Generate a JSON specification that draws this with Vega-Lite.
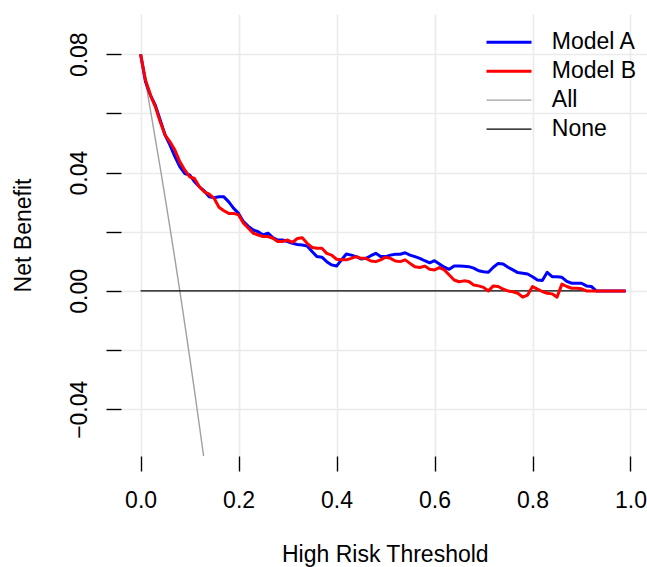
{
"$schema": "https://vega.github.io/schema/vega-lite/v6.json",
"width": 526,
"height": 442,
"autosize": {"type": "none"},
"padding": {"left": 121, "top": 14, "right": 0, "bottom": 111},
"config": {"font": "Liberation Sans", "view": {"stroke": null}},
"data": {"values": [
{"series":"All","t":0,"nb":0.08},{"series":"All","t":0.01,"nb":0.0707},{"series":"All","t":0.02,"nb":0.0612},{"series":"All","t":0.03,"nb":0.0515},{"series":"All","t":0.04,"nb":0.0417},{"series":"All","t":0.05,"nb":0.0316},{"series":"All","t":0.06,"nb":0.0213},{"series":"All","t":0.07,"nb":0.0108},{"series":"All","t":0.08,"nb":0},{"series":"All","t":0.09,"nb":-0.011},{"series":"All","t":0.1,"nb":-0.0222},{"series":"All","t":0.11,"nb":-0.0337},{"series":"All","t":0.12,"nb":-0.0455},{"series":"All","t":0.13,"nb":-0.0575},{"series":"All","t":0.14,"nb":-0.0698},
{"series":"None","t":0,"nb":0},{"series":"None","t":0.99,"nb":0},
{"series":"Model A","t":0,"nb":0.08},{"series":"Model A","t":0.01,"nb":0.0707},{"series":"Model A","t":0.02,"nb":0.0662},{"series":"Model A","t":0.03,"nb":0.0628},{"series":"Model A","t":0.04,"nb":0.0578},{"series":"Model A","t":0.05,"nb":0.0527},{"series":"Model A","t":0.06,"nb":0.0493},{"series":"Model A","t":0.07,"nb":0.0454},{"series":"Model A","t":0.08,"nb":0.042},{"series":"Model A","t":0.09,"nb":0.0397},
{"series":"Model A","t":0.1,"nb":0.0392},{"series":"Model A","t":0.11,"nb":0.0369},{"series":"Model A","t":0.12,"nb":0.0352},{"series":"Model A","t":0.13,"nb":0.0338},{"series":"Model A","t":0.14,"nb":0.0318},{"series":"Model A","t":0.15,"nb":0.0315},{"series":"Model A","t":0.16,"nb":0.0318},{"series":"Model A","t":0.17,"nb":0.0318},{"series":"Model A","t":0.18,"nb":0.0301},{"series":"Model A","t":0.19,"nb":0.0279},
{"series":"Model A","t":0.2,"nb":0.0262},{"series":"Model A","t":0.21,"nb":0.0234},{"series":"Model A","t":0.22,"nb":0.0218},{"series":"Model A","t":0.23,"nb":0.0206},{"series":"Model A","t":0.24,"nb":0.02},{"series":"Model A","t":0.25,"nb":0.0189},{"series":"Model A","t":0.26,"nb":0.0195},{"series":"Model A","t":0.27,"nb":0.018},{"series":"Model A","t":0.28,"nb":0.0172},{"series":"Model A","t":0.29,"nb":0.0172},
{"series":"Model A","t":0.3,"nb":0.0167},{"series":"Model A","t":0.31,"nb":0.0161},{"series":"Model A","t":0.32,"nb":0.0157},{"series":"Model A","t":0.33,"nb":0.0155},{"series":"Model A","t":0.34,"nb":0.0152},{"series":"Model A","t":0.35,"nb":0.0133},{"series":"Model A","t":0.36,"nb":0.0116},{"series":"Model A","t":0.37,"nb":0.0114},{"series":"Model A","t":0.38,"nb":0.0099},{"series":"Model A","t":0.39,"nb":0.0088},
{"series":"Model A","t":0.4,"nb":0.0084},{"series":"Model A","t":0.41,"nb":0.0105},{"series":"Model A","t":0.42,"nb":0.0125},{"series":"Model A","t":0.43,"nb":0.0121},{"series":"Model A","t":0.44,"nb":0.0116},{"series":"Model A","t":0.45,"nb":0.0108},{"series":"Model A","t":0.46,"nb":0.011},{"series":"Model A","t":0.47,"nb":0.0119},{"series":"Model A","t":0.48,"nb":0.0127},{"series":"Model A","t":0.49,"nb":0.0116},
{"series":"Model A","t":0.5,"nb":0.0116},{"series":"Model A","t":0.51,"nb":0.0121},{"series":"Model A","t":0.52,"nb":0.0124},{"series":"Model A","t":0.53,"nb":0.0124},{"series":"Model A","t":0.54,"nb":0.0129},{"series":"Model A","t":0.55,"nb":0.0121},{"series":"Model A","t":0.56,"nb":0.0116},{"series":"Model A","t":0.57,"nb":0.011},{"series":"Model A","t":0.58,"nb":0.0102},{"series":"Model A","t":0.59,"nb":0.0095},
{"series":"Model A","t":0.6,"nb":0.0102},{"series":"Model A","t":0.61,"nb":0.0091},{"series":"Model A","t":0.62,"nb":0.008},{"series":"Model A","t":0.63,"nb":0.0073},{"series":"Model A","t":0.64,"nb":0.0084},{"series":"Model A","t":0.65,"nb":0.0084},{"series":"Model A","t":0.66,"nb":0.0083},{"series":"Model A","t":0.67,"nb":0.0082},{"series":"Model A","t":0.68,"nb":0.0077},{"series":"Model A","t":0.69,"nb":0.0068},
{"series":"Model A","t":0.7,"nb":0.0065},{"series":"Model A","t":0.71,"nb":0.0063},{"series":"Model A","t":0.72,"nb":0.008},{"series":"Model A","t":0.73,"nb":0.0093},{"series":"Model A","t":0.74,"nb":0.0091},{"series":"Model A","t":0.75,"nb":0.008},{"series":"Model A","t":0.76,"nb":0.0071},{"series":"Model A","t":0.77,"nb":0.0062},{"series":"Model A","t":0.78,"nb":0.006},{"series":"Model A","t":0.79,"nb":0.0057},
{"series":"Model A","t":0.8,"nb":0.0048},{"series":"Model A","t":0.81,"nb":0.0037},{"series":"Model A","t":0.82,"nb":0.0035},{"series":"Model A","t":0.83,"nb":0.0063},{"series":"Model A","t":0.84,"nb":0.0048},{"series":"Model A","t":0.85,"nb":0.0048},{"series":"Model A","t":0.86,"nb":0.0046},{"series":"Model A","t":0.87,"nb":0.0032},{"series":"Model A","t":0.88,"nb":0.0026},{"series":"Model A","t":0.89,"nb":0.0026},
{"series":"Model A","t":0.9,"nb":0.0026},{"series":"Model A","t":0.91,"nb":0.0017},{"series":"Model A","t":0.92,"nb":0.0015},{"series":"Model A","t":0.93,"nb":0},{"series":"Model A","t":0.94,"nb":0},{"series":"Model A","t":0.95,"nb":0},{"series":"Model A","t":0.96,"nb":0},{"series":"Model A","t":0.97,"nb":0},{"series":"Model A","t":0.98,"nb":0},{"series":"Model A","t":0.99,"nb":0},
{"series":"Model B","t":0,"nb":0.08},{"series":"Model B","t":0.01,"nb":0.0713},{"series":"Model B","t":0.02,"nb":0.0662},{"series":"Model B","t":0.03,"nb":0.0623},{"series":"Model B","t":0.04,"nb":0.0572},{"series":"Model B","t":0.05,"nb":0.0527},{"series":"Model B","t":0.06,"nb":0.0504},{"series":"Model B","t":0.07,"nb":0.0476},{"series":"Model B","t":0.08,"nb":0.0437},{"series":"Model B","t":0.09,"nb":0.0409},
{"series":"Model B","t":0.1,"nb":0.0386},{"series":"Model B","t":0.11,"nb":0.038},{"series":"Model B","t":0.12,"nb":0.0352},{"series":"Model B","t":0.13,"nb":0.0335},{"series":"Model B","t":0.14,"nb":0.0327},{"series":"Model B","t":0.15,"nb":0.0313},{"series":"Model B","t":0.16,"nb":0.0283},{"series":"Model B","t":0.17,"nb":0.0271},{"series":"Model B","t":0.18,"nb":0.0262},{"series":"Model B","t":0.19,"nb":0.0262},
{"series":"Model B","t":0.2,"nb":0.0257},{"series":"Model B","t":0.21,"nb":0.0229},{"series":"Model B","t":0.22,"nb":0.0212},{"series":"Model B","t":0.23,"nb":0.0195},{"series":"Model B","t":0.24,"nb":0.0189},{"series":"Model B","t":0.25,"nb":0.0184},{"series":"Model B","t":0.26,"nb":0.0184},{"series":"Model B","t":0.27,"nb":0.0178},{"series":"Model B","t":0.28,"nb":0.0167},{"series":"Model B","t":0.29,"nb":0.0167},
{"series":"Model B","t":0.3,"nb":0.0172},{"series":"Model B","t":0.31,"nb":0.0164},{"series":"Model B","t":0.32,"nb":0.0177},{"series":"Model B","t":0.33,"nb":0.018},{"series":"Model B","t":0.34,"nb":0.0161},{"series":"Model B","t":0.35,"nb":0.0147},{"series":"Model B","t":0.36,"nb":0.0144},{"series":"Model B","t":0.37,"nb":0.0144},{"series":"Model B","t":0.38,"nb":0.0127},{"series":"Model B","t":0.39,"nb":0.0121},
{"series":"Model B","t":0.4,"nb":0.0107},{"series":"Model B","t":0.41,"nb":0.0105},{"series":"Model B","t":0.42,"nb":0.0105},{"series":"Model B","t":0.43,"nb":0.011},{"series":"Model B","t":0.44,"nb":0.0116},{"series":"Model B","t":0.45,"nb":0.011},{"series":"Model B","t":0.46,"nb":0.011},{"series":"Model B","t":0.47,"nb":0.0101},{"series":"Model B","t":0.48,"nb":0.0099},{"series":"Model B","t":0.49,"nb":0.0105},
{"series":"Model B","t":0.5,"nb":0.0114},{"series":"Model B","t":0.51,"nb":0.011},{"series":"Model B","t":0.52,"nb":0.0101},{"series":"Model B","t":0.53,"nb":0.0099},{"series":"Model B","t":0.54,"nb":0.0105},{"series":"Model B","t":0.55,"nb":0.0093},{"series":"Model B","t":0.56,"nb":0.0082},{"series":"Model B","t":0.57,"nb":0.0079},{"series":"Model B","t":0.58,"nb":0.0084},{"series":"Model B","t":0.59,"nb":0.0073},
{"series":"Model B","t":0.6,"nb":0.0071},{"series":"Model B","t":0.61,"nb":0.0079},{"series":"Model B","t":0.62,"nb":0.0071},{"series":"Model B","t":0.63,"nb":0.0054},{"series":"Model B","t":0.64,"nb":0.0037},{"series":"Model B","t":0.65,"nb":0.0031},{"series":"Model B","t":0.66,"nb":0.0034},{"series":"Model B","t":0.67,"nb":0.0032},{"series":"Model B","t":0.68,"nb":0.002},{"series":"Model B","t":0.69,"nb":0.0017},
{"series":"Model B","t":0.7,"nb":0.0012},{"series":"Model B","t":0.71,"nb":0},{"series":"Model B","t":0.72,"nb":0.0017},{"series":"Model B","t":0.73,"nb":0.0015},{"series":"Model B","t":0.74,"nb":0.0006},{"series":"Model B","t":0.75,"nb":0},{"series":"Model B","t":0.76,"nb":-0.0003},{"series":"Model B","t":0.77,"nb":-0.0008},{"series":"Model B","t":0.78,"nb":-0.0021},{"series":"Model B","t":0.79,"nb":-0.0014},
{"series":"Model B","t":0.8,"nb":0.0015},{"series":"Model B","t":0.81,"nb":0.0006},{"series":"Model B","t":0.82,"nb":-0.0002},{"series":"Model B","t":0.83,"nb":-0.0008},{"series":"Model B","t":0.84,"nb":-0.001},{"series":"Model B","t":0.85,"nb":-0.0021},{"series":"Model B","t":0.86,"nb":0.0023},{"series":"Model B","t":0.87,"nb":0.0015},{"series":"Model B","t":0.88,"nb":0.0009},{"series":"Model B","t":0.89,"nb":0.0009},
{"series":"Model B","t":0.9,"nb":0.0007},{"series":"Model B","t":0.91,"nb":0},{"series":"Model B","t":0.92,"nb":0},{"series":"Model B","t":0.93,"nb":0},{"series":"Model B","t":0.94,"nb":0},{"series":"Model B","t":0.95,"nb":0},{"series":"Model B","t":0.96,"nb":0},{"series":"Model B","t":0.97,"nb":0},{"series":"Model B","t":0.98,"nb":0},{"series":"Model B","t":0.99,"nb":0}
]},
"encoding": {
  "x": {"field": "t", "type": "quantitative",
    "scale": {"domain": [-0.04, 1.0337], "nice": false, "zero": false},
    "axis": {"values": [0, 0.2, 0.4, 0.6, 0.8, 1], "format": ".1f", "grid": true, "gridColor": "#EBEBEB", "gridWidth": 1.7,
      "domain": false, "tickSize": 15, "tickColor": "black", "tickWidth": 1.4,
      "labelFontSize": 23, "labelColor": "black", "labelPadding": 18, "labelBaseline": "top", "labelFlush": false, "labelOverlap": false,
      "title": "High Risk Threshold", "titleFontSize": 23, "titleFontWeight": "normal", "titleColor": "black",
      "titleX": 263.8, "titleY": 105.8, "titleBaseline": "alphabetic", "titleAlign": "center"}},
  "y": {"field": "nb", "type": "quantitative",
    "scale": {"domain": [-0.0558, 0.0936], "nice": false, "zero": false},
    "axis": {"values": [-0.04, -0.02, 0, 0.02, 0.04, 0.06, 0.08],
      "labelExpr": "abs(round(datum.value*100)) % 4 == 0 ? format(datum.value, '.2f') : ''",
      "grid": true, "gridColor": "#EBEBEB", "gridWidth": 1.7,
      "domain": false, "tickSize": 15, "tickColor": "black", "tickWidth": 1.4,
      "labelFontSize": 23, "labelColor": "black", "labelAngle": 270, "labelAlign": "center", "labelBaseline": "alphabetic", "labelPadding": 19.3, "labelFlush": false, "labelOverlap": false,
      "title": "Net Benefit", "titleFontSize": 23, "titleFontWeight": "normal", "titleColor": "black", "titleAngle": 270,
      "titleX": -90.3, "titleY": 221, "titleBaseline": "alphabetic", "titleAlign": "center"}},
  "color": {"field": "series", "type": "nominal",
    "scale": {"domain": ["Model A", "Model B", "All", "None"], "range": ["#0000FF", "#FF0000", "#A0A0A0", "#000000"]},
    "legend": {"title": null, "orient": "none", "legendX": 346, "legendY": 0, "symbolType": "stroke", "symbolSize": 2025,
      "labelFontSize": 23, "labelColor": "black", "labelOffset": 19.3, "symbolOffset": 4.5, "padding": 14, "rowPadding": 0, "clipHeight": 28.3,
      "strokeColor": null, "fillColor": null, "labelLimit": 0,
      "encode": {"symbols": {"update": {"strokeWidth": {"signal": "((datum.value == 'Model A' || datum.value == 'Model B') ? 3 : 1.4)"}}}}}}
},
"layer": [
  {"data": {"values": [{}]}, "mark": {"type": "rule", "strokeWidth": 1.4},
   "encoding": {"x": {"datum": -0.04, "type": "quantitative"}, "y": {"datum": -0.04, "type": "quantitative"}, "y2": {"datum": 0.08},
     "color": {"value": "black"}}},
  {"data": {"values": [{}]}, "mark": {"type": "rule", "strokeWidth": 1.4},
   "encoding": {"y": {"datum": -0.0558, "type": "quantitative"}, "x": {"datum": 0, "type": "quantitative"}, "x2": {"datum": 1},
     "color": {"value": "black"}}},
  {"transform": [{"filter": "datum.series == 'All'"}], "mark": {"type": "line", "clip": true, "strokeJoin": "round", "strokeWidth": 1.4}},
  {"transform": [{"filter": "datum.series == 'None'"}], "mark": {"type": "line", "clip": true, "strokeJoin": "round", "strokeWidth": 1.4}},
  {"transform": [{"filter": "datum.series == 'Model A'"}], "mark": {"type": "line", "clip": true, "strokeJoin": "round", "strokeWidth": 3}},
  {"transform": [{"filter": "datum.series == 'Model B'"}], "mark": {"type": "line", "clip": true, "strokeJoin": "round", "strokeWidth": 3}},
  {"data": {"values": [{}]}, "mark": {"type": "rule", "strokeWidth": 1.2},
   "encoding": {"y": {"datum": 0.0934, "type": "quantitative"}, "x": {"datum": 0.6669, "type": "quantitative"}, "x2": {"datum": 1.0337},
     "color": {"value": "black"}}},
  {"data": {"values": [{}]}, "mark": {"type": "rule", "strokeWidth": 1.2},
   "encoding": {"y": {"datum": 0.0459, "type": "quantitative"}, "x": {"datum": 0.6669, "type": "quantitative"}, "x2": {"datum": 1.0337},
     "color": {"value": "black"}}},
  {"data": {"values": [{}]}, "mark": {"type": "rule", "strokeWidth": 1.2},
   "encoding": {"x": {"datum": 0.6669, "type": "quantitative"}, "y": {"datum": 0.0459, "type": "quantitative"}, "y2": {"datum": 0.0934},
     "color": {"value": "black"}}}
]
}
